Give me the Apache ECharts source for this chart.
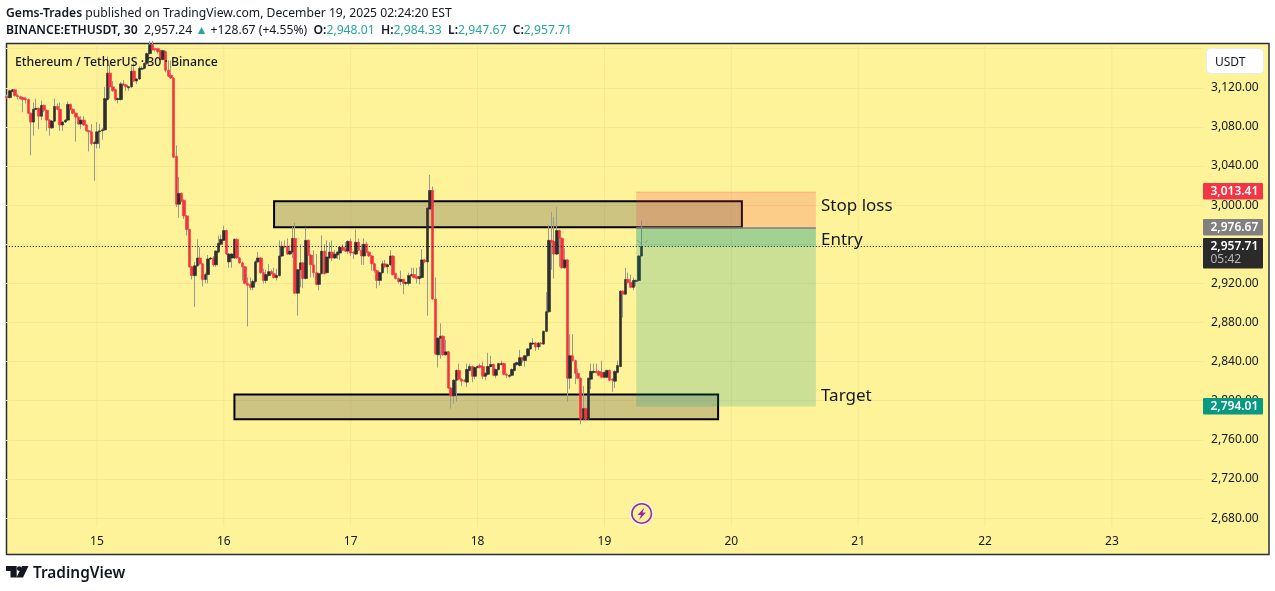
<!DOCTYPE html>
<html><head><meta charset="utf-8">
<style>html,body{margin:0;padding:0;background:#fff}#c{width:1275px;height:591px}</style>
<script src="https://cdn.jsdelivr.net/npm/echarts@6/dist/echarts.min.js"></script>
</head><body><div id="c"></div>
<script>
// [open, close, low, high], 30-minute candles
const ohlcRows = [
[3111,3110,3109,3113],[3110,3117,3109,3118],[3116,3118,3116,3119],[3118,3112,3111,3119],[3112,3111,3108,3114],[3111,3109,3108,3112],[3110,3108,3095,3111],[3109,3108,3104,3111],[3108,3094,3093,3109],[3094,3085,3051,3095],
[3085,3098,3071,3105],[3098,3099,3097,3109],[3099,3091,3078,3100],[3091,3102,3087,3107],[3102,3097,3095,3103],[3097,3087,3076,3098],[3087,3079,3071,3088],[3079,3086,3078,3087],[3086,3101,3085,3109],[3101,3098,3097,3104],
[3098,3082,3076,3105],[3082,3085,3076,3086],[3085,3087,3084,3088],[3087,3103,3086,3106],[3103,3098,3097,3104],[3098,3094,3093,3099],[3094,3090,3065,3095],[3090,3083,3082,3091],[3083,3087,3078,3091],[3087,3082,3081,3091],
[3082,3076,3075,3083],[3076,3075,3055,3077],[3075,3063,3061,3083],[3063,3064,3025,3066],[3063,3075,3058,3085],[3075,3076,3058,3083],[3076,3077,3067,3079],[3077,3109,3076,3121],[3108,3135,3107,3152],[3135,3121,3109,3144],
[3121,3117,3116,3127],[3118,3108,3107,3119],[3108,3109,3104,3110],[3108,3124,3107,3126],[3124,3123,3122,3128],[3123,3121,3117,3124],[3120,3121,3117,3122],[3121,3137,3120,3143],[3137,3127,3126,3145],[3127,3129,3124,3130],
[3129,3140,3128,3142],[3139,3140,3138,3142],[3140,3145,3139,3146],[3145,3155,3143,3156],[3155,3164,3154,3168],[3164,3159,3158,3168],[3160,3159,3157,3161],[3160,3157,3155,3161],[3158,3149,3148,3159],[3149,3158,3148,3159],
[3157,3138,3136,3158],[3138,3132,3131,3148],[3133,3130,3129,3148],[3130,3049,3048,3131],[3050,3001,2998,3061],[3001,3012,2987,3029],[3012,3004,3003,3013],[3005,2989,2986,3006],[2989,2975,2969,2990],[2975,2937,2936,2976],
[2937,2928,2924,2938],[2928,2938,2896,2942],[2938,2946,2937,2965],[2946,2940,2939,2957],[2940,2924,2917,2941],[2924,2929,2920,2931],[2929,2945,2920,2949],[2945,2946,2944,2947],[2946,2939,2937,2948],[2939,2953,2937,2954],
[2952,2961,2951,2969],[2960,2965,2959,2970],[2964,2974,2963,2979],[2974,2950,2949,2975],[2942,2950,2936,2951],[2946,2950,2936,2951],[2946,2965,2945,2966],[2965,2946,2945,2966],[2946,2941,2940,2947],[2941,2937,2923,2942],
[2937,2920,2919,2938],[2920,2918,2876,2926],[2919,2916,2913,2926],[2916,2922,2913,2924],[2922,2942,2920,2944],[2942,2946,2941,2952],[2946,2931,2930,2947],[2931,2923,2920,2935],[2923,2929,2920,2934],[2928,2932,2927,2940],
[2932,2930,2929,2934],[2930,2926,2925,2936],[2926,2928,2923,2935],[2928,2948,2927,2964],[2948,2958,2947,2963],[2958,2957,2956,2964],[2958,2950,2949,2966],[2950,2953,2949,2959],[2952,2966,2946,2978],[2966,2910,2909,2982],
[2910,2934,2887,2935],[2934,2941,2916,2960],[2941,2925,2915,2942],[2925,2964,2924,2977],[2964,2949,2948,2965],[2949,2939,2926,2950],[2939,2931,2926,2954],[2931,2919,2918,2950],[2919,2930,2913,2931],[2930,2953,2929,2969],
[2953,2930,2929,2960],[2931,2947,2930,2964],[2946,2952,2945,2962],[2952,2946,2943,2964],[2946,2950,2945,2954],[2949,2952,2945,2953],[2951,2957,2944,2958],[2957,2954,2953,2960],[2955,2953,2952,2962],[2953,2963,2950,2964],
[2963,2951,2948,2966],[2952,2951,2945,2953],[2950,2962,2949,2975],[2962,2954,2953,2966],[2954,2948,2939,2960],[2948,2960,2939,2966],[2960,2952,2951,2963],[2952,2948,2947,2953],[2948,2940,2933,2949],[2940,2933,2931,2941],
[2933,2923,2915,2934],[2923,2931,2918,2932],[2931,2940,2930,2943],[2940,2937,2936,2944],[2937,2939,2930,2940],[2939,2948,2938,2954],[2948,2929,2928,2949],[2930,2925,2924,2931],[2925,2922,2920,2926],[2922,2924,2918,2933],
[2924,2920,2909,2925],[2920,2921,2918,2922],[2920,2928,2918,2931],[2928,2929,2927,2936],[2929,2926,2925,2936],[2927,2925,2920,2936],[2925,2927,2919,2937],[2926,2944,2925,2955],[2944,2942,2941,2945],[2942,2997,2887,2998],
[2996,3015,2995,3031],[3015,2904,2903,3019],[2904,2848,2847,2926],[2847,2864,2834,2865],[2864,2866,2843,2879],[2866,2847,2846,2867],[2847,2850,2846,2862],[2850,2813,2812,2851],[2813,2805,2792,2814],[2805,2821,2797,2822],
[2821,2831,2799,2832],[2831,2822,2821,2838],[2822,2820,2815,2823],[2821,2820,2819,2822],[2819,2832,2814,2838],[2831,2835,2830,2838],[2835,2825,2819,2836],[2825,2834,2822,2835],[2834,2835,2833,2836],[2836,2834,2833,2838],
[2835,2825,2822,2840],[2825,2828,2821,2829],[2827,2835,2826,2849],[2835,2837,2834,2846],[2837,2826,2825,2838],[2826,2832,2823,2833],[2832,2838,2831,2839],[2837,2838,2836,2841],[2838,2827,2826,2839],[2827,2826,2823,2828],
[2825,2826,2823,2827],[2826,2832,2825,2833],[2831,2838,2830,2839],[2837,2839,2836,2840],[2836,2844,2835,2852],[2844,2842,2839,2845],[2841,2846,2835,2847],[2846,2853,2845,2854],[2853,2859,2852,2860],[2858,2859,2857,2864],
[2859,2855,2851,2860],[2855,2859,2852,2860],[2859,2858,2855,2860],[2858,2871,2857,2872],[2871,2891,2870,2911],[2891,2964,2890,2980],[2964,2962,2934,2993],[2963,2950,2925,2988],[2950,2974,2949,2998],[2974,2966,2937,2975],
[2966,2936,2935,2967],[2936,2944,2935,2956],[2944,2823,2799,2945],[2823,2846,2812,2868],[2846,2841,2840,2868],[2841,2828,2817,2842],[2828,2823,2822,2833],[2823,2781,2776,2824],[2781,2792,2780,2815],[2792,2781,2780,2793],
[2781,2823,2780,2824],[2822,2830,2812,2838],[2829,2830,2828,2838],[2830,2829,2828,2838],[2830,2826,2825,2831],[2829,2824,2823,2841],[2824,2829,2823,2830],[2824,2831,2823,2832],[2831,2821,2820,2832],[2822,2821,2809,2823],
[2820,2830,2813,2831],[2829,2836,2828,2841],[2835,2912,2834,2913],[2912,2909,2885,2913],[2909,2924,2908,2936],[2924,2921,2920,2931],[2921,2916,2915,2929],[2916,2923,2913,2926],[2922,2923,2917,2924],[2923,2948,2922,2949],
[2948.01,2957.71,2947.67,2984.33]
];
const totalSlots = 453;
const dayLabels = ['15','16','17','18','19','20','21','22','23'];
const dayStartIndex = [34,82,130,178,226,274,322,370,418];
const lastPrice = 2957.71;
const stopPrice = 3013.41, entryPrice = 2976.67, targetPrice = 2794.01;
// [first slot, last slot, top price, bottom price]
const supplyDemandBoxes = [[101,278,3004,2977.5],[86,269,2806.4,2781.1]];
const riskStart = 238, riskEnd = 306.3;
const axisMin = 2640, axisMax = 3164.3, paneFloor = 2671.4;

const YEL='#FFF399', UP='#2E2E2E', DOWN='#F7323F', WICK='#99998C', GRIDC='#F4E795';
const FONT='"Noto Sans", sans-serif';
const categories = Array.from({length: totalSlots}, () => '');
dayStartIndex.forEach((s, i) => { categories[s] = dayLabels[i]; });
const bodies = ohlcRows.map(r => [r[0], r[1], Math.min(r[0],r[1]), Math.max(r[0],r[1])]);
const fmt = v => v.toLocaleString('en-US',{minimumFractionDigits:2,maximumFractionDigits:2});

function rectItem(api, x0, x1, y0, y1, style){
  const a = api.coord([x0,y0]), b = api.coord([x1,y1]);
  return {type:'rect', shape:{x:a[0], y:a[1], width:b[0]-a[0], height:b[1]-a[1]}, style};
}
const tag = (y,h,fill,txt) => [
  {type:'rect',z:100,shape:{x:1203,y,width:60,height:h,r:1},style:{fill}},
  {type:'text',z:101,x:1210.5,y:y+8.5,style:{text:txt,fill:'#fff',font:'600 12px '+FONT,textVerticalAlign:'middle'}}
];
const chart = echarts.init(document.getElementById('c'),null,{renderer:'canvas'});
chart.setOption({
  animation:false,
  backgroundColor:'#fff',
  tooltip:{show:false},
  grid:{left:5.8,top:44.5,width:1197.3,height:512.7,containLabel:false},
  xAxis:{type:'category',data:categories,boundaryGap:true,
    axisLine:{show:false},axisTick:{show:false},splitLine:{show:false},
    axisLabel:{inside:true,margin:10,interval:(i,v)=>v!=='',color:'#131722',fontSize:12,fontFamily:FONT}},
  yAxis:{type:'value',position:'right',min:axisMin,max:axisMax,interval:40,
    axisLine:{show:false},axisTick:{show:false},
    splitLine:{show:true,showMinLine:false,showMaxLine:false,lineStyle:{color:GRIDC,width:1}},
    axisLabel:{margin:8,color:'#131722',fontSize:12,fontFamily:FONT,padding:[0,0,4,0],
      formatter:v=>(v<2680||v>3120)?'':fmt(v)}},
  series:[
    {type:'custom',name:'dayLines',z:1,silent:true,clip:true,encode:{x:0,y:1},
     data:dayStartIndex.map(i=>[i,axisMax]),
     renderItem:(p,api)=>{const a=api.coord([api.value(0),axisMax]),b=api.coord([api.value(0),paneFloor]);
       return {type:'line',shape:{x1:a[0],y1:a[1],x2:b[0],y2:b[1]},style:{stroke:GRIDC,lineWidth:1}};}},
    {type:'custom',name:'boxes',z:2,silent:true,clip:true,encode:{x:[0,1],y:[2,3]},
     data:supplyDemandBoxes,
     renderItem:(p,api)=>rectItem(api,api.value(0),api.value(1),api.value(2),api.value(3),
       {fill:'rgba(120,115,90,0.36)',stroke:'#000',lineWidth:2})},
    {type:'candlestick',name:'wicks',z:3,barWidth:1,silent:true,data:ohlcRows,
     itemStyle:{color:WICK,color0:WICK,borderColor:WICK,borderColor0:WICK,borderColorDoji:WICK,borderWidth:1}},
    {type:'candlestick',name:'ETHUSDT',z:4,barWidth:3,silent:true,data:bodies,
     itemStyle:{color:UP,color0:DOWN,borderColor:UP,borderColor0:DOWN,borderColorDoji:UP,borderWidth:0.6},
     markLine:{silent:true,symbol:'none',animation:false,label:{show:false},
       lineStyle:{color:'#000',type:[1,2],width:1},data:[{yAxis:lastPrice}]}},
    {type:'custom',name:'position',z:5,silent:true,clip:true,encode:{x:[0,1],y:[2,3]},
     data:[[riskStart,riskEnd,stopPrice,entryPrice,0],[riskStart,riskEnd,entryPrice,targetPrice,1],[riskStart,riskEnd,entryPrice,lastPrice,1]],
     renderItem:(p,api)=>rectItem(api,api.value(0),api.value(1),api.value(2),api.value(3),
       {fill:api.value(4)?'rgba(0,150,136,0.2)':'rgba(242,54,69,0.2)'})},
    {type:'custom',name:'positionLines',z:6,silent:true,clip:true,encode:{x:[0,1],y:2},
     data:[[riskStart,riskEnd,stopPrice,0],[riskStart,riskEnd,entryPrice,1]],
     renderItem:(p,api)=>{const a=api.coord([api.value(0),api.value(2)]),b=api.coord([api.value(1),api.value(2)]);
       return {type:'line',shape:{x1:a[0],y1:a[1],x2:b[0],y2:b[1]},
         style:api.value(3)?{stroke:'#808080',lineWidth:1.5}:{stroke:'rgba(242,54,69,.25)',lineWidth:1}};}}
  ],
  graphic:[
    {type:'rect',z:-1,silent:true,shape:{x:6.5,y:43.5,width:1262.5,height:511},style:{fill:YEL,stroke:'#2A2E39',lineWidth:1.5}},
    {type:'text',z:50,x:6,y:14,style:{font:'12.17px '+FONT,fill:'#131722',textVerticalAlign:'middle',
      text:'{b|Gems-Trades} {n|published on TradingView.com, December 19, 2025 02:24:20 EST}',
      rich:{b:{font:'600 12.17px '+FONT,fill:'#131722'},n:{font:'12.17px '+FONT,fill:'#131722'}}}},
    {type:'text',z:50,x:6,y:31,style:{font:'12.17px '+FONT,fill:'#131722',textVerticalAlign:'middle',
      text:'{b|BINANCE:ETHUSDT, 30}  {n|2,957.24} {g|▲} {n|+128.67 (+4.55%)}  {b|O:}{g|2,948.01}  {b|H:}{g|2,984.33}  {b|L:}{g|2,947.67}  {b|C:}{g|2,957.71}',
      rich:{b:{font:'600 12.17px '+FONT,fill:'#131722'},n:{font:'12.17px '+FONT,fill:'#131722'},g:{font:'12.17px '+FONT,fill:'#26A69A'}}}},
    {type:'text',z:50,x:15,y:62,style:{text:'Ethereum / TetherUS · 30 · Binance',font:'500 12.3px '+FONT,fill:'#131722',textVerticalAlign:'middle'}},
    {type:'text',z:50,x:821,y:206,style:{text:'Stop loss',font:'17px '+FONT,fill:'#131722',textVerticalAlign:'middle'}},
    {type:'text',z:50,x:821,y:240,style:{text:'Entry',font:'17px '+FONT,fill:'#131722',textVerticalAlign:'middle'}},
    {type:'text',z:50,x:821,y:396,style:{text:'Target',font:'17px '+FONT,fill:'#131722',textVerticalAlign:'middle'}},
    {type:'rect',z:60,shape:{x:1206.5,y:48.5,width:57,height:25,r:4},style:{fill:'#fff',stroke:'#E9EBEF',lineWidth:1}},
    {type:'text',z:61,x:1215,y:63,style:{text:'USDT',font:'12px '+FONT,fill:'#131722',textVerticalAlign:'middle'}},
    ...tag(183,16.5,'#F23645',fmt(stopPrice)),
    ...tag(219,16.5,'#808080',fmt(entryPrice)),
    ...tag(238,30.5,'#2A2A2A',fmt(lastPrice)),
    {type:'text',z:101,x:1210.5,y:260,style:{text:'05:42',fill:'#B8B8B8',font:'12px '+FONT,textVerticalAlign:'middle'}},
    ...tag(398,16.5,'#089981',fmt(targetPrice)),
    {type:'circle',z:50,shape:{cx:641.7,cy:513.5,r:11.3},style:{fill:'none',stroke:'rgba(255,255,255,.75)',lineWidth:1.4}},
    {type:'circle',z:50,shape:{cx:641.7,cy:513.5,r:9.8},style:{fill:YEL,stroke:'#9C27B0',lineWidth:1.6}},
    {type:'polygon',z:51,shape:{points:[[644.5,507.5],[637.5,515],[641,515],[639,520],[646,512.5],[642.5,512.5]]},style:{fill:'#9C27B0'}},
    {type:'polyline',z:51,shape:{points:[[637,240],[641,243.5]]},style:{stroke:'#9a9a8a',lineWidth:1}},
    {type:'polyline',z:51,shape:{points:[[648,240],[645,243]]},style:{stroke:'#9a9a8a',lineWidth:1}},
    {type:'polygon',z:50,shape:{points:[[6,566],[16.7,566],[16.7,577.5],[10.5,577.5],[10.5,571],[6,571]]},style:{fill:'#131722'}},
    {type:'circle',z:50,shape:{cx:19.2,cy:568.6,r:2.3},style:{fill:'#131722'}},
    {type:'polygon',z:50,shape:{points:[[22,566],[28.5,566],[23,577.5],[16.5,577.5]]},style:{fill:'#131722'}},
    {type:'text',z:50,x:33,y:574,style:{text:'TradingView',font:'600 15.4px '+FONT,fill:'#131722',textVerticalAlign:'middle'}}
  ]
});
</script></body></html>
